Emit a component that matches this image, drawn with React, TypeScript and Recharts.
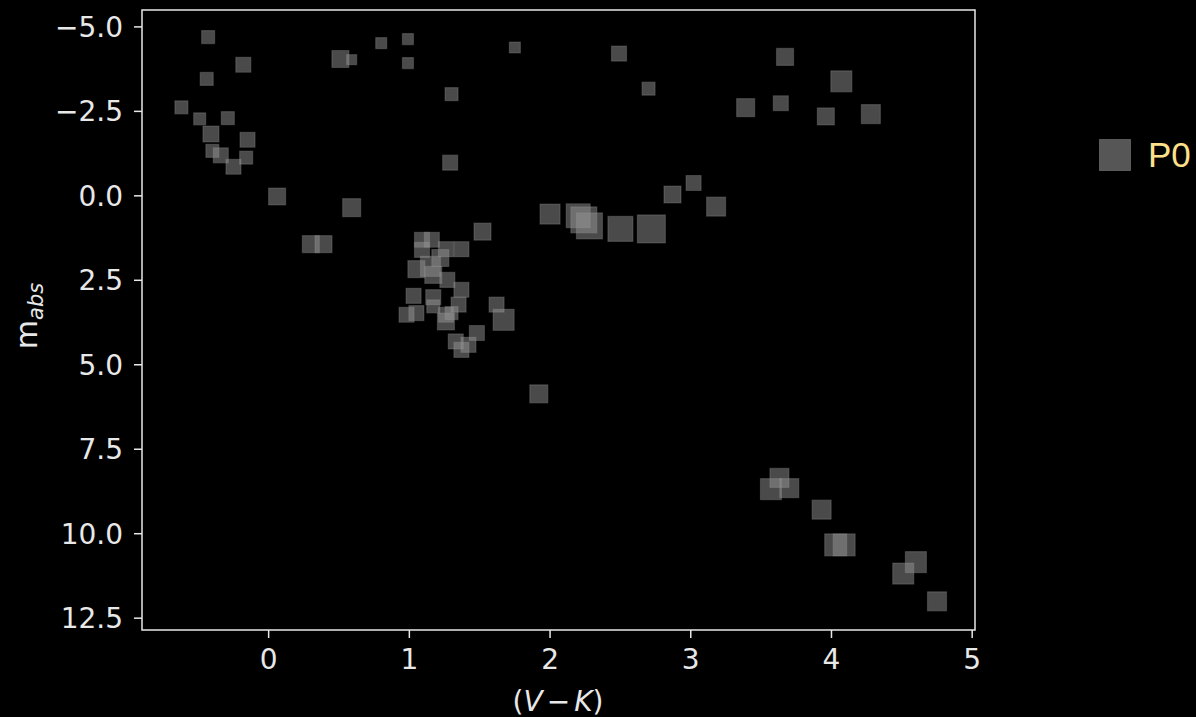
import {
  ScatterChart,
  Scatter,
  XAxis,
  YAxis,
  ZAxis,
  ReferenceArea
} from 'recharts'

// colour index (V-K), absolute magnitude and marker area for each star
const vk = [
  -0.43, -0.18, -0.44, -0.62, -0.49, -0.29, -0.41, -0.15, -0.4, -0.34, -0.16, -0.25,
  0.06, 0.59, 0.51, 0.59, 0.8, 0.99, 0.99, 1.75, 1.3, 1.29, 0.3, 0.39, 1.52, 2.0,
  1.09, 1.16, 1.09, 1.26, 1.37, 1.05, 1.15, 1.17, 1.22, 1.27, 1.37, 1.03, 1.17, 1.35,
  1.17, 0.98, 1.05, 1.26, 1.3, 1.26, 1.62, 1.67, 1.48, 1.33, 1.42, 1.37, 1.92,
  2.49, 2.7, 3.67, 4.07, 3.39, 3.64, 3.96, 4.28, 3.02, 2.87, 3.18,
  2.2, 2.24, 2.28, 2.5, 2.72,
  3.63, 3.57, 3.7, 3.93, 4.03, 4.09, 4.6, 4.51, 4.75
]
const mAbs = [
  -4.7, -3.88, -3.46, -2.62, -2.28, -2.3, -1.83, -1.66, -1.33, -1.2, -1.13, -0.86,
  0.02, 0.35, -4.05, -4.03, -4.52, -4.64, -3.93, -4.39, -3.01, -0.98, 1.43, 1.43, 1.06, 0.54,
  1.3, 1.3, 1.6, 1.58, 1.58, 2.17, 2.09, 2.34, 1.84, 2.49, 2.78, 2.96, 3.0, 3.22,
  3.27, 3.52, 3.47, 3.52, 3.47, 3.72, 3.22, 3.67, 4.06, 4.31, 4.41, 4.56, 5.86,
  -4.21, -3.17, -4.11, -3.39, -2.61, -2.74, -2.35, -2.42, -0.38, -0.04, 0.32,
  0.59, 0.71, 0.89, 0.98, 0.98,
  8.35, 8.68, 8.65, 9.29, 10.33, 10.33, 10.84, 11.18, 12.0
]
const markerArea = [
  169, 225, 169, 169, 144, 169, 256, 225, 169, 225, 169, 225,
  289, 324, 289, 100, 121, 121, 121, 121, 169, 225, 289, 289, 289, 400,
  225, 225, 225, 225, 225, 289, 400, 289, 289, 225, 225, 225, 225, 225,
  169, 225, 225, 225, 169, 289, 225, 441, 225, 225, 225, 225, 324,
  225, 169, 289, 441, 324, 225, 289, 361, 225, 289, 361,
  576, 676, 676, 625, 784,
  361, 441, 361, 361, 484, 484, 441, 441, 361
]

const xTicks = [0, 1, 2, 3, 4, 5]
const yTicks = [-5, -2.5, 0, 2.5, 5, 7.5, 10, 12.5]
const seriesName = 'P0'

const points = vk.map((x, i) => ({ x, y: mAbs[i], s: markerArea[i] }))

const FG = '#e8e8e8'
const MARKER = '#949494'
const tickStyle = { fill: FG, fontSize: 28, fontFamily: 'DejaVu Sans' }

const fmtY = (v: number) => v.toFixed(1).replace('-', '\u2212')

export default function App() {
  return (
    <div
      style={{
        position: 'absolute',
        left: 0,
        top: 0,
        width: 1196,
        height: 717,
        background: '#000',
        overflow: 'hidden'
      }}
    >
      <ScatterChart
        width={1196}
        height={717}
        margin={{ top: 10, right: 221, bottom: 0, left: 0 }}
      >
        <XAxis
          type="number"
          dataKey="x"
          domain={[-0.9, 5.02]}
          ticks={xTicks}
          interval={0}
          allowDataOverflow
          height={87}
          axisLine={false}
          tickLine={{ stroke: FG, strokeWidth: 1.5 }}
          tickSize={8}
          tickMargin={11}
          tick={tickStyle}
          label={{
            content: () => (
              <text
                x={558}
                y={711}
                textAnchor="middle"
                fill={FG}
                fontSize={28}
                fontFamily="DejaVu Sans"
              >
                (<tspan fontStyle="italic">V</tspan>
                <tspan dx={4}>{'\u2212'}</tspan>
                <tspan dx={4} fontStyle="italic">K</tspan>)
              </text>
            )
          }}
        />
        <YAxis
          type="number"
          dataKey="y"
          domain={[-5.5, 12.85]}
          reversed
          ticks={yTicks}
          interval={0}
          allowDataOverflow
          width={142}
          axisLine={false}
          tickLine={{ stroke: FG, strokeWidth: 1.5 }}
          tickSize={8}
          tickMargin={11}
          tick={tickStyle}
          tickFormatter={fmtY}
          label={{
            content: () => (
              <text
                x={37}
                y={316}
                transform="rotate(-90, 37, 316)"
                textAnchor="middle"
                fill={FG}
                fontSize={30}
                fontFamily="DejaVu Sans"
              >
                m
                <tspan fontSize={21} fontStyle="italic" dy={6}>abs</tspan>
              </text>
            )
          }}
        />
        <ZAxis type="number" dataKey="s" domain={[0, 1000]} range={[0, 1000]} />
        <ReferenceArea
          x1={-0.9}
          x2={5.02}
          y1={-5.5}
          y2={12.85}
          fill="none"
          stroke={FG}
          strokeWidth={1.5}
          ifOverflow="visible"
        />
        <Scatter
          name={seriesName}
          data={points}
          shape="square"
          fill={MARKER}
          fillOpacity={0.5}
          stroke={MARKER}
          strokeOpacity={0.3}
          strokeWidth={1.2}
          isAnimationActive={false}
        />
      </ScatterChart>
      {/* legend to the right of the axes */}
      <div
        style={{
          position: 'absolute',
          left: 1099,
          top: 139,
          display: 'flex',
          alignItems: 'center',
          gap: 17
        }}
      >
        <svg width={32} height={32}>
          <rect
            x={0.5}
            y={0.5}
            width={31}
            height={31}
            fill={MARKER}
            fillOpacity={0.58}
            stroke={MARKER}
            strokeOpacity={0.45}
          />
        </svg>
        <span
          style={{
            color: '#ffe08a',
            fontSize: 35,
            fontFamily: 'Liberation Sans',
            lineHeight: '30px'
          }}
        >
          {seriesName}
        </span>
      </div>
    </div>
  )
}
